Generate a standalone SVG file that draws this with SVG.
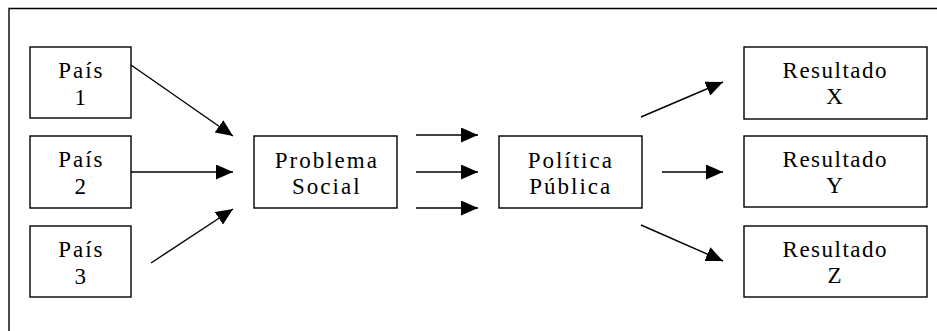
<svg xmlns="http://www.w3.org/2000/svg" width="937" height="331" viewBox="0 0 937 331">
<defs>
<style>
.box{fill:#fff;stroke:#000;stroke-width:1.4}
.t{font-family:"Liberation Serif","Times New Roman",serif;font-size:23px;letter-spacing:2px;fill:#000;text-anchor:middle}
.r{letter-spacing:1.5px}
.c{stroke:#000;stroke-width:1.4;fill:none;marker-end:url(#ah)}
</style>
<marker id="ah" markerUnits="userSpaceOnUse" markerWidth="17" markerHeight="15" viewBox="0 0 17 15" refX="17" refY="7.5" orient="auto">
<path d="M0,0 L17,7.5 L0,15 z" fill="#000"/>
</marker>
</defs>
<rect width="937" height="331" fill="#fff"/>
<path d="M9,331 V8.5 H937" fill="none" stroke="#000" stroke-width="1.4"/>
<g id="pais1"><rect class="box" x="30" y="47" width="101" height="71"/><text class="t" x="81.3" y="78">País</text><text class="t" x="81.3" y="105">1</text></g>
<g id="pais2"><rect class="box" x="30" y="136" width="101" height="72"/><text class="t" x="81.3" y="167">País</text><text class="t" x="81.3" y="194">2</text></g>
<g id="pais3"><rect class="box" x="30" y="226" width="101" height="71"/><text class="t" x="81.3" y="257">País</text><text class="t" x="81.3" y="284">3</text></g>
<g id="problema"><rect class="box" x="254" y="136" width="143" height="72"/><text class="t" x="326.8" y="167.5">Problema</text><text class="t" x="326.8" y="194">Social</text></g>
<g id="politica"><rect class="box" x="499" y="136" width="143" height="72"/><text class="t" x="570.8" y="167.5">Política</text><text class="t" x="570.8" y="194">Pública</text></g>
<g id="resX"><rect class="box" x="744" y="47" width="183" height="72"/><text class="t r" x="835.3" y="78">Resultado</text><text class="t" x="835.5" y="104">X</text></g>
<g id="resY"><rect class="box" x="744" y="136" width="183" height="71"/><text class="t r" x="835.3" y="167">Resultado</text><text class="t" x="835.5" y="193">Y</text></g>
<g id="resZ"><rect class="box" x="744" y="226" width="183" height="71"/><text class="t r" x="835.3" y="257">Resultado</text><text class="t" x="835.5" y="283">Z</text></g>
<g id="connectors">
<path class="c" d="M131,65 L233,136"/>
<path class="c" d="M131,172 L233,172"/>
<path class="c" d="M151,263 L233,209"/>
<path class="c" d="M416,135 L478,135"/>
<path class="c" d="M416,172 L478,172"/>
<path class="c" d="M416,208 L478,208"/>
<path class="c" d="M641,117 L723,82"/>
<path class="c" d="M662,172 L723,172"/>
<path class="c" d="M641,225 L723,261"/>
</g>
</svg>
